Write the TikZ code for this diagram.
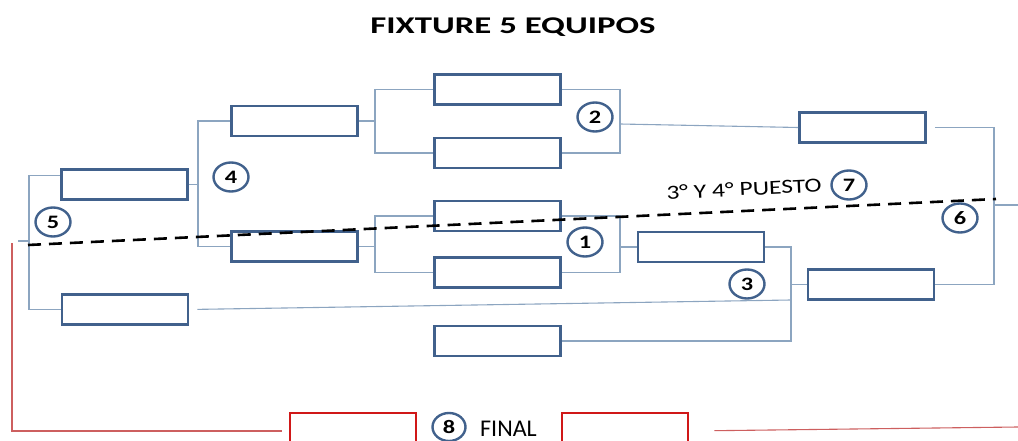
\documentclass[tikz,border=0pt]{standalone}
\usepackage{fontspec}
\setmainfont{Carlito}
\newfontfamily\widefont{Carlito}[FakeStretch=1.28]
\newfontfamily\titlefont{Carlito}[FakeStretch=1.45]
\usetikzlibrary{shapes.geometric}

\definecolor{boxblue}{RGB}{65,97,140}
\definecolor{linkblue}{RGB}{140,165,192}
\definecolor{boxred}{RGB}{208,24,24}
\definecolor{linkred}{RGB}{205,95,95}

\begin{document}
\begin{tikzpicture}[x=1pt,y=-1pt,
	team/.style={draw=boxblue, line width=2.6pt, minimum width=126pt, minimum height=30pt, inner sep=0pt},
	finalist/.style={draw=boxred, line width=2.6pt, minimum width=126pt, minimum height=36pt, inner sep=0pt},
	link/.style={draw=linkblue, line width=1.1pt},
	redlink/.style={draw=linkred, line width=1.1pt},
	match/.style={draw=boxblue, line width=2.4pt, ellipse, minimum width=35pt, minimum height=29pt, inner sep=0pt,
		font=\widefont\bfseries\fontsize{19}{20}\selectfont}]

	\useasboundingbox (0,0) rectangle (1018,441);

	% ---- title

	\node[font=\titlefont\bfseries\fontsize{24}{28}\selectfont] (title) at (513,27) {FIXTURE 5 EQUIPOS};

	% ---- teams

	\node[team] (b1) at (124.5,184.5) {};
	\node[team] (b2) at (125,309.5) {};

	\node[team] (c1) at (294.5,121) {};
	\node[team] (c2) at (294.5,246.5) {};

	\node[team] (d1) at (497.5,89.5) {};
	\node[team] (d2) at (497.5,153) {};
	\node[team] (d3) at (497.5,216) {};
	\node[team] (d4) at (497.5,272.5) {};
	\node[team] (d5) at (497.5,341) {};

	\node[team] (e1) at (701,247) {};

	\node[team] (f1) at (862.5,127.5) {};
	\node[team] (f2) at (871,284.5) {};

	\node[finalist] (r1) at (353,431) {};
	\node[finalist] (r2) at (625,431) {};

	% ---- bracket points

	\coordinate (s5) at (29,241);
	\coordinate (s5l) at (18,241);
	\coordinate (s4) at (198,184.5);
	\coordinate (sa) at (375,121);
	\coordinate (sb) at (375,246.5);
	\coordinate (s2) at (620,124);
	\coordinate (s1) at (620,247);
	\coordinate (s3) at (791,284.5);
	\coordinate (s3b) at (791,300);
	\coordinate (s6) at (994,205);
	\coordinate (s6r) at (1018,205);

	% ---- brackets

	\draw[link] ([yshift=9pt]b1.west) -| (s5) |- (b2.west);
	\draw[link] (s5) -- (s5l);

	\draw[link] (b1.east) -- (s4);
	\draw[link] (c1.west) -| (s4) |- (c2.west);

	\draw[link] (c1.east) -- (sa);
	\draw[link] (d1.west) -| (sa) |- (d2.west);
	\draw[link] (c2.east) -- (sb);
	\draw[link] (d3.west) -| (sb) |- (d4.west);

	\draw[link] (d1.east) -| (s2) |- (d2.east);
	\draw[link] (s2) -- (f1.west);
	\draw[link] (d3.east) -| (s1) |- (d4.east);
	\draw[link] (s1) -- (e1.west);

	\draw[link] (e1.east) -| (s3) |- (d5.east);
	\draw[link, shorten <=8pt] (b2.east) -- (s3b);
	\draw[link] (s3) -- (f2.west);

	\draw[link, shorten <=8pt] (f1.east) -| (s6) |- (f2.east);
	\draw[link] (s6) -- (s6r);

	% ---- third place line

	\coordinate (dl) at (28,245);
	\coordinate (dr) at (996,199);
	\draw[line width=2.6pt, dash pattern=on 13pt off 8pt] (dl) -- (dr);

	% ---- final lines

	\coordinate (rl) at (12,243);
	\coordinate (rr) at (1018,427);
	\draw[redlink, shorten >=7pt] (rl) |- (r1.west);
	\draw[redlink, shorten <=25pt] (r2.east) -- (rr);

	% ---- match numbers

	\node[match] (n1) at (585,242) {1};
	\node[match] (n2) at (595,117) {2};
	\node[match] (n3) at (747,284) {3};
	\node[match] (n4) at (231,177) {4};
	\node[match] (n5) at (53,222) {5};
	\node[match] (n6) at (960,218) {6};
	\node[match] (n7) at (849,185) {7};
	\node[match, minimum width=33pt, minimum height=28pt] (n8) at (449,427) {8};

	% ---- texts

	\node[font=\widefont\fontsize{20}{22}\selectfont, rotate=2.7] (puesto) at (744,189) {3° Y 4° PUESTO};
	\node[font=\fontsize{24}{26}\selectfont, anchor=base west, inner sep=0pt] (final) at (480,436) {FINAL};

\end{tikzpicture}
\end{document}
